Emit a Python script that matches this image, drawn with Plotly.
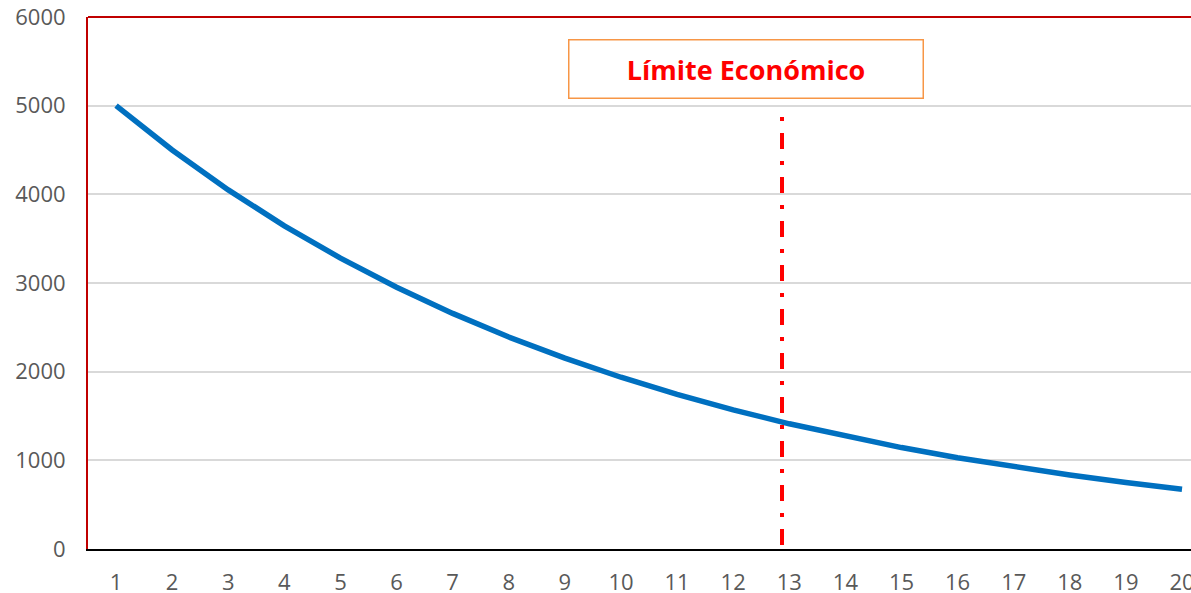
import plotly.graph_objects as go

# Data
periods = list(range(1, 21))
values = [5000, 4500, 4050, 3645, 3281, 2952, 2657, 2391, 2152, 1937,
          1743, 1569, 1412, 1271, 1144, 1029, 926, 834, 750, 675]
y_ticks = [0, 1000, 2000, 3000, 4000, 5000, 6000]
limit_x = 12.87
limit_y_range = [4872, 30]
label_text = "Límite Económico"

fig = go.Figure()
fig.add_trace(go.Scatter(
    x=periods, y=values, mode="lines",
    line=dict(color="#0070C0", width=5.5),
    hoverinfo="skip", showlegend=False,
))

# Economic limit vertical dash-dot line
fig.add_shape(type="line", xref="x", yref="y",
              x0=limit_x, x1=limit_x, y0=limit_y_range[0], y1=limit_y_range[1],
              line=dict(color="#FF0000", width=4, dash="4px,12px,16px,12px"))

# Top red border of plot area
fig.add_shape(type="line", xref="x domain", yref="y domain",
              x0=0, x1=1, y0=1, y1=1,
              line=dict(color="#C00000", width=2))

fig.add_annotation(
    text=f"<b>{label_text}</b>", xref="paper", yref="paper",
    x=0.597, y=0.903, xanchor="center", yanchor="middle",
    showarrow=False, width=353, height=57,
    bordercolor="#F79646", borderwidth=1.5, borderpad=0,
    bgcolor="white",
    font=dict(family="Open Sans", size=27, color="#FF0000"),
)

fig.update_layout(
    width=1191, height=593,
    margin=dict(l=88, r=0, t=17, b=44, autoexpand=False),
    paper_bgcolor="white", plot_bgcolor="white",
    font=dict(family="Open Sans", size=22, color="#595959"),
    xaxis=dict(
        range=[0.5, 20.16], tickmode="array", tickvals=periods,
        ticktext=[str(p) for p in periods],
        showgrid=False, zeroline=False, automargin=False,
        showline=True, linecolor="#000000", linewidth=2,
        ticks="", ticklabelstandoff=13, ticklabeloverflow="allow",
        tickfont=dict(size=22, color="#595959"),
    ),
    yaxis=dict(
        range=[0, 6000], tickmode="array", tickvals=y_ticks,
        showgrid=True, gridcolor="#D9D9D9", gridwidth=1.5,
        zeroline=False, automargin=False,
        showline=True, linecolor="#C00000", linewidth=2,
        ticks="", ticklabelstandoff=16, ticklabeloverflow="allow",
        tickfont=dict(size=22, color="#595959"),
    ),
)

fig.write_html(
    "out.html",
    config={"displayModeBar": False},
    post_script="document.body.style.margin='0';document.body.style.overflow='hidden';",
)
